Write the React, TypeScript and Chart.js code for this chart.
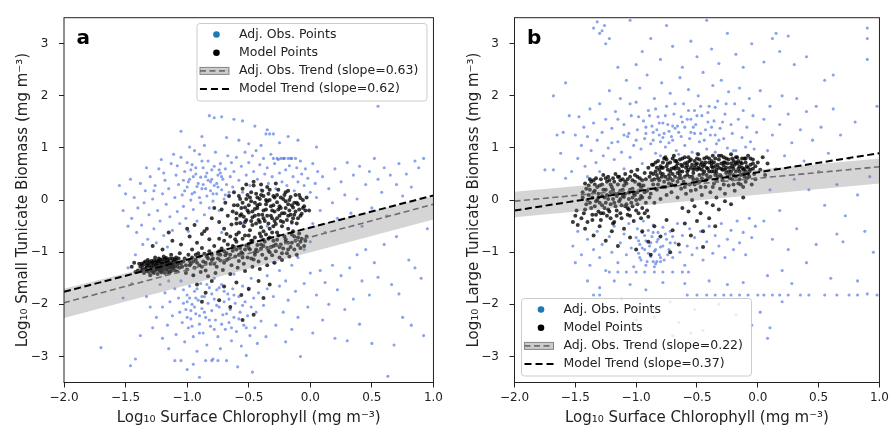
import { useEffect, useRef } from "react";
import { Chart, registerables } from "chart.js";
Chart.register(...registerables);

type P = [number, number];

const X_TICKS = [-2.0, -1.5, -1.0, -0.5, 0.0, 0.5, 1.0];
const Y_TICKS = [-3, -2, -1, 0, 1, 2, 3];
const X_MIN = -2, X_MAX = 1, Y_MIN = -3.5, Y_MAX = 3.5;
const TREND_X = [-2, 1];

const X_TITLE = "Log\u2081\u2080 Surface Chlorophyll (mg m\u207B\u00B3)";
const A_Y_TITLE = "Log\u2081\u2080 Small Tunicate Biomass (mg m\u207B\u00B3)";
const B_Y_TITLE = "Log\u2081\u2080 Large Tunicate Biomass (mg m\u207B\u00B3)";

const A_LEGEND = ["Adj. Obs. Points", "Model Points", "Adj. Obs. Trend (slope=0.63)", "Model Trend (slope=0.62)"];
const B_LEGEND = ["Adj. Obs. Points", "Model Points", "Adj. Obs. Trend (slope=0.22)", "Model Trend (slope=0.37)"];

// trend values at x = -2 and x = 1
const A_MODEL_TREND = [-1.76, 0.09];
const A_OBS_TREND = [-1.97, -0.08];
const A_BAND_HI = [-1.70, 0.08];
const A_BAND_LO = [-2.26, -0.37];
const B_MODEL_TREND = [-0.20, 0.90];
const B_OBS_TREND = [-0.02, 0.64];
const B_BAND_HI = [0.16, 0.80];
const B_BAND_LO = [-0.33, 0.32];

const A_MODEL: P[] = [
[-1.36,-1.32],[-1.33,-1.25],[-1.31,-1.38],[-1.29,-1.21],[-1.28,-1.30],[-1.27,-1.16],[-1.26,-1.35],[-1.25,-1.24],[-1.24,-1.42],[-1.23,-1.12],
[-1.22,-1.29],[-1.21,-1.19],[-1.20,-1.36],[-1.19,-1.08],[-1.18,-1.26],[-1.17,-1.33],[-1.16,-1.15],[-1.15,-1.40],[-1.14,-1.22],[-1.13,-1.05],
[-1.12,-1.31],[-1.11,-1.18],[-1.10,-1.27],[-1.09,-1.10],[-1.08,-1.37],[-1.07,-1.21],[-1.06,-1.02],[-1.34,-1.18],[-1.30,-1.44],[-1.26,-1.10],
[-1.24,-1.31],[-1.22,-1.22],[-1.20,-1.14],[-1.18,-1.40],[-1.16,-1.25],[-1.14,-1.12],[-1.12,-1.19],[-1.10,-1.35],[-1.38,-1.28],[-1.35,-1.40],
[-1.32,-1.15],[-1.29,-1.34],[-1.27,-1.26],[-1.23,-1.18],[-1.21,-1.39],[-1.19,-1.23],[-1.17,-1.11],[-1.15,-1.29],[-1.13,-1.36],[-1.11,-1.24],
[-1.09,-1.17],[-1.40,-1.35],[-1.37,-1.22],[-1.33,-1.30],[-1.28,-1.20],[-1.25,-1.33],[-1.21,-1.27],[-1.17,-1.20],[-1.13,-1.28],[-1.31,-1.26],
[-1.04,-1.28],[-1.02,-1.12],[-1.00,-1.33],[-0.99,-1.05],[-0.97,-1.22],[-0.96,-0.95],[-0.94,-1.30],[-0.93,-1.14],[-0.91,-1.02],[-0.90,-1.25],
[-0.88,-0.92],[-0.87,-1.18],[-0.85,-1.35],[-0.84,-1.08],[-0.82,-0.98],[-0.81,-1.22],[-0.79,-1.12],[-0.78,-0.88],[-0.76,-1.28],[-0.75,-1.03],
[-0.73,-1.16],[-0.72,-0.93],[-0.70,-1.20],[-0.69,-1.06],[-0.67,-0.85],[-0.66,-1.12],[-0.64,-1.25],[-0.63,-0.97],[-0.61,-1.08],[-0.60,-0.80],
[-0.58,-1.17],[-0.57,-0.92],[-0.55,-1.03],[-0.54,-1.22],[-0.52,-0.87],[-0.51,-1.10],[-0.49,-0.95],[-0.48,-0.78],[-0.46,-1.14],[-0.45,-1.00],
[-0.43,-0.86],[-0.42,-1.18],[-0.40,-0.93],[-0.39,-1.05],[-0.37,-0.80],[-0.36,-1.12],[-0.34,-0.97],[-0.33,-0.72],[-0.31,-1.06],[-0.30,-0.88],
[-0.28,-0.98],[-0.27,-0.76],[-0.25,-1.10],[-0.24,-0.85],[-0.22,-0.93],[-0.21,-0.70],[-0.19,-1.02],[-0.18,-0.82],[-0.16,-0.90],[-0.15,-0.66],
[-0.13,-0.95],[-0.12,-0.78],[-0.10,-0.86],[-0.09,-0.64],[-0.07,-0.74],[-0.05,-0.88],[-0.03,-0.70],[-1.01,-1.40],[-0.95,-1.44],[-0.89,-1.38],
[-0.83,-1.46],[-0.77,-1.40],[-0.71,-1.34],[-0.65,-1.42],[-0.59,-1.30],[-0.53,-1.36],[-0.47,-1.28],[-0.41,-1.32],[-0.35,-1.25],[-0.29,-1.20],
[-0.23,-1.15],[-0.17,-1.08],[-0.11,-1.05],[-0.98,-1.17],[-0.86,-1.03],[-0.74,-0.98],[-0.62,-0.90],[-0.50,-0.84],[-0.38,-0.76],[-0.26,-0.68],
[-0.14,-0.60],[-0.92,-1.20],[-0.80,-1.15],[-0.68,-1.02],[-0.56,-1.00],[-0.44,-0.95],[-0.32,-0.90],[-0.20,-0.80],[-0.08,-0.80],[-0.96,-1.10],
[-0.74,-0.74],[-0.70,-0.78],[-0.65,-0.70],[-0.60,-0.66],[-0.55,-0.74],[-0.50,-0.68],[-0.45,-0.72],[-0.41,-0.64],[-0.36,-0.66],[-0.31,-0.62],
[-0.74,-0.42],[-0.72,-0.18],[-0.70,-0.55],[-0.69,-0.05],[-0.67,-0.30],[-0.66,0.08],[-0.64,-0.47],[-0.63,-0.22],[-0.62,0.15],[-0.60,-0.36],
[-0.59,-0.10],[-0.58,-0.62],[-0.57,0.02],[-0.56,-0.27],[-0.55,0.22],[-0.54,-0.50],[-0.53,-0.14],[-0.52,-0.38],[-0.51,0.10],[-0.50,-0.24],
[-0.49,-0.58],[-0.48,-0.02],[-0.47,-0.33],[-0.46,0.28],[-0.45,-0.17],[-0.44,-0.45],[-0.43,0.05],[-0.42,-0.28],[-0.41,-0.08],[-0.40,-0.52],
[-0.39,0.18],[-0.38,-0.20],[-0.37,-0.40],[-0.36,0.00],[-0.35,-0.30],[-0.34,0.12],[-0.33,-0.55],[-0.32,-0.12],[-0.31,-0.35],[-0.30,0.08],
[-0.29,-0.22],[-0.28,-0.46],[-0.27,-0.04],[-0.26,0.20],[-0.25,-0.30],[-0.24,-0.15],[-0.23,-0.50],[-0.22,0.02],[-0.21,-0.25],[-0.20,0.15],
[-0.19,-0.38],[-0.18,-0.08],[-0.17,-0.20],[-0.16,0.06],[-0.15,-0.42],[-0.14,-0.14],[-0.13,-0.28],[-0.12,0.10],[-0.11,-0.05],[-0.10,-0.35],
[-0.09,-0.18],[-0.08,0.04],[-0.07,-0.26],[-0.05,-0.12],[-0.03,0.05],[-0.01,-0.20],[-0.68,-0.65],[-0.61,-0.75],[-0.53,-0.68],[-0.47,-0.78],
[-0.40,-0.70],[-0.34,-0.74],[-0.27,-0.62],[-0.46,0.35],[-0.40,0.30],[-0.52,0.30],[-0.35,0.25],[-0.28,0.32],[-0.80,-0.35],[-0.84,-0.55],
[-0.78,-0.15],[-0.82,-0.75],[-0.88,-0.65],[-0.57,-0.44],[-0.48,-0.40],[-0.43,-0.15],[-0.38,-0.60],[-0.30,-0.50],[-0.24,-0.40],[-0.18,-0.55],
[-0.92,-1.62],[-0.85,-1.78],[-0.80,-1.55],[-0.74,-1.92],[-0.70,-1.66],[-0.65,-2.05],[-0.60,-1.58],[-0.56,-1.82],[-0.50,-1.70],[-0.46,-2.20],
[-0.42,-1.55],[-0.38,-1.88],[-0.33,-1.62],[-0.55,-2.30],[-0.88,-1.95],[-1.28,-0.88],[-1.20,-0.95],[-1.12,-0.78],[-1.05,-0.85],[-0.98,-0.70],
[-0.92,-0.82],[-0.86,-0.60],[-1.15,-0.62],[-1.00,-0.55],[-0.94,-0.48],[-1.45,-1.28],[-1.43,-1.20],[-1.42,-1.38]
];

const A_MODEL_DENSE: P[] = [
[-1.39,-1.22],[-1.37,-1.35],[-1.35,-1.20],[-1.34,-1.32],[-1.32,-1.22],[-1.30,-1.30],[-1.29,-1.17],[-1.28,-1.38],[-1.26,-1.28],[-1.25,-1.17],
[-1.24,-1.25],[-1.23,-1.34],[-1.22,-1.14],[-1.21,-1.31],[-1.20,-1.22],[-1.19,-1.32],[-1.18,-1.18],[-1.17,-1.27],[-1.16,-1.34],[-1.15,-1.18],
[-1.14,-1.30],[-1.13,-1.22],[-1.12,-1.12],[-1.11,-1.30],[-1.10,-1.20],[-1.08,-1.28],[-1.07,-1.12],[-1.05,-1.22],[-1.03,-1.18],[-1.01,-1.25],
[-0.62,-0.10],[-0.60,-0.25],[-0.58,0.08],[-0.56,-0.15],[-0.54,-0.32],[-0.52,0.02],[-0.50,-0.10],[-0.48,0.15],[-0.47,-0.22],[-0.45,-0.05],
[-0.44,0.12],[-0.42,-0.38],[-0.41,0.02],[-0.39,-0.28],[-0.38,0.08],[-0.36,-0.18],[-0.35,-0.02],[-0.33,0.20],[-0.32,-0.30],[-0.30,-0.10],
[-0.29,0.05],[-0.27,-0.35],[-0.26,-0.18],[-0.24,0.05],[-0.23,-0.25],[-0.21,0.10],[-0.20,-0.15],[-0.18,-0.30],[-0.17,0.00],[-0.15,-0.10],
[-0.14,-0.35],[-0.12,-0.22],[-0.10,-0.08],[-0.08,-0.30],[-0.06,0.00],[-0.04,-0.20],
[-0.95,-1.18],[-0.90,-1.08],[-0.85,-1.20],[-0.80,-1.05],[-0.75,-1.12],[-0.70,-0.98],[-0.65,-1.05],[-0.60,-0.95],[-0.55,-1.10],[-0.50,-0.92],
[-0.45,-1.05],[-0.40,-0.85],[-0.35,-0.92],[-0.30,-0.78],[-0.25,-0.90],[-0.20,-0.75],[-0.15,-0.82],[-0.10,-0.72],
[-1.36,-1.25],[-1.33,-1.36],[-1.31,-1.19],[-1.29,-1.28],[-1.27,-1.40],[-1.26,-1.20],[-1.24,-1.18],[-1.22,-1.36],[-1.20,-1.28],[-1.18,-1.12],
[-1.16,-1.20],[-1.14,-1.38],[-1.12,-1.25],[-1.10,-1.14],[-1.08,-1.22],[-1.06,-1.30],
[-0.60,-0.45],[-0.57,-0.30],[-0.55,-0.05],[-0.53,-0.42],[-0.51,-0.20],[-0.49,0.05],[-0.47,-0.48],[-0.45,-0.30],[-0.43,-0.10],[-0.41,-0.42],
[-0.40,0.10],[-0.38,-0.35],[-0.36,-0.08],[-0.34,-0.45],[-0.33,0.00],[-0.31,-0.20],[-0.29,-0.40],[-0.27,0.10],[-0.25,-0.12],[-0.22,-0.42],
[-0.20,-0.02],[-0.18,0.18],[-0.16,-0.28],[-0.13,-0.05],[-0.11,-0.45],[-0.09,0.10],[-0.06,-0.15],
[-0.98,-1.25],[-0.93,-1.05],[-0.88,-1.28],[-0.83,-1.12],[-0.78,-1.22],[-0.73,-1.05],[-0.68,-1.15],[-0.63,-0.88],[-0.58,-1.05],[-0.53,-0.95],
[-0.48,-1.12],[-0.43,-0.98],[-0.38,-0.88],[-0.33,-1.00],[-0.28,-0.85],[-0.23,-1.02],[-0.18,-0.95],[-0.13,-0.70],[-0.08,-0.92],[-0.04,-0.78]
];

const A_OBS: P[] = [
[-1.45,-0.35],[-1.43,0.05],[-1.41,-0.62],[-1.40,-0.15],[-1.38,0.32],[-1.37,-0.48],[-1.35,-0.05],[-1.34,0.18],[-1.32,-0.75],[-1.31,-0.28],
[-1.30,0.45],[-1.28,0.02],[-1.27,-0.55],[-1.26,0.28],[-1.24,-0.20],[-1.23,0.60],[-1.22,-0.40],[-1.20,0.12],[-1.19,-0.68],[-1.18,0.38],
[-1.17,-0.08],[-1.15,0.22],[-1.14,-0.32],[-1.13,0.70],[-1.12,-0.58],[-1.10,0.05],[-1.09,0.48],[-1.08,-0.22],[-1.07,0.30],[-1.06,-0.45],
[-1.05,0.82],[-1.04,0.10],[-1.03,-0.12],[-1.02,0.55],[-1.01,-0.35],[-1.00,0.25],[-0.99,-0.60],[-0.98,0.40],[-0.97,0.00],[-0.96,0.68],
[-0.95,-0.18],[-0.94,0.15],[-0.93,0.50],[-0.92,-0.40],[-0.91,0.32],[-0.90,0.88],[-0.89,-0.05],[-0.88,0.22],[-0.87,0.62],[-0.86,-0.28],
[-0.85,0.45],[-0.84,0.08],[-0.83,0.75],[-0.82,-0.15],[-0.81,0.35],[-0.80,0.58],[-0.79,-0.02],[-0.78,0.28],[-0.77,0.92],[-0.76,0.12],
[-0.75,0.48],[-0.74,-0.20],[-0.73,0.70],[-0.72,0.20],[-0.71,0.40],[-0.70,0.02],[-0.69,0.60],[-0.68,0.30],[-0.67,0.85],[-0.66,0.15],
[-0.65,0.45],[-0.64,0.72],[-0.63,0.25],[-0.62,0.55],[-1.36,-0.85],[-1.25,-0.82],[-1.16,-0.90],[-1.50,0.12],[-1.48,-0.50],[-1.52,-0.20],
[-1.46,0.40],[-1.55,0.28],[-1.33,0.62],[-1.21,0.78],[-1.11,0.88],[-0.98,1.02],[-0.94,0.95],[-0.86,1.05],[-1.03,0.38],[-0.97,0.58],
[-0.92,0.26],[-0.89,0.44],[-0.85,0.22],[-0.80,0.40],[-0.76,0.32],[-0.73,0.52],[-1.27,0.18],[-1.19,0.52],[-1.08,0.66],[-1.00,0.72],
[-0.60,0.82],[-0.58,0.38],[-0.56,0.65],[-0.55,0.15],[-0.53,0.92],[-0.52,0.48],[-0.50,0.72],[-0.49,0.28],[-0.47,0.85],[-0.46,0.55],
[-0.44,0.95],[-0.43,0.40],[-0.41,0.68],[-0.40,0.20],[-0.38,0.80],[-0.37,0.50],[-0.35,0.62],[-0.34,0.32],[-0.32,0.88],[-0.31,0.45],
[-0.29,0.70],[-0.28,0.22],[-0.26,0.78],[-0.25,0.52],[-0.23,0.35],[-0.22,0.80],[-0.20,0.58],[-0.19,0.28],[-0.17,0.66],[-0.16,0.80],
[-0.14,0.45],[-0.13,0.18],[-0.11,0.62],[-0.10,0.35],[-0.08,0.75],[-0.07,0.50],[-0.05,0.28],[-0.04,0.60],[-0.02,0.42],[0.00,0.15],
[0.02,0.70],[0.04,0.32],[0.06,0.55],[-0.30,0.80],[-0.27,0.80],[-0.24,0.80],[-0.21,0.80],[-0.18,0.80],[-0.15,0.80],[-0.12,0.80],
[-0.82,1.62],[-0.78,1.58],[-0.72,1.60],[-0.62,1.55],[-0.55,1.52],[-0.68,1.20],[-0.58,1.15],[-0.45,1.42],[-0.35,1.35],[-0.40,1.05],
[-0.25,1.10],[-0.18,1.22],[-0.10,1.15],[-1.05,1.32],[-0.88,1.22],[-0.30,1.27],[-0.33,1.27],[-0.36,1.27],[0.05,1.02],[-0.50,1.08],
[-1.22,-1.62],[-1.20,-2.05],[-1.18,-1.78],[-1.16,-2.40],[-1.14,-1.95],[-1.12,-2.22],[-1.10,-1.70],[-1.09,-2.58],[-1.07,-1.88],[-1.06,-2.15],
[-1.05,-1.55],[-1.04,-2.35],[-1.03,-1.98],[-1.02,-2.72],[-1.01,-2.10],[-1.00,-1.82],[-0.99,-2.45],[-0.98,-1.65],[-0.97,-2.28],[-0.96,-2.00],
[-0.95,-2.62],[-0.94,-1.75],[-0.93,-2.18],[-0.92,-2.90],[-0.91,-1.92],[-0.90,-2.38],[-0.89,-1.60],[-0.88,-2.08],[-0.87,-2.55],[-0.86,-1.85],
[-0.85,-2.25],[-0.84,-2.78],[-0.83,-1.98],[-0.82,-1.68],[-0.81,-2.42],[-0.80,-2.12],[-0.79,-3.05],[-0.78,-1.90],[-0.77,-2.30],[-0.76,-1.72],
[-0.75,-2.62],[-0.74,-2.05],[-0.73,-2.85],[-0.72,-1.62],[-0.71,-2.20],[-0.70,-1.95],[-0.69,-2.48],[-0.68,-3.08],[-0.67,-1.80],[-0.66,-2.35],
[-0.65,-2.10],[-0.64,-2.70],[-0.63,-1.70],[-0.62,-2.25],[-0.61,-1.98],[-0.60,-2.52],[-0.59,-3.20],[-0.58,-1.85],[-0.57,-2.15],[-0.56,-2.80],
[-0.55,-1.65],[-0.54,-2.40],[-0.53,-1.95],[-0.52,-2.98],[-0.51,-2.22],[-0.50,-1.72],[-0.49,-2.60],[-0.48,-2.05],[-0.47,-3.30],[-0.46,-1.88],
[-0.45,-2.45],[-0.44,-2.15],[-0.43,-2.75],[-0.42,-1.78],[-0.40,-2.32],[-0.38,-2.02],[-0.36,-2.62],[-0.35,-1.70],[-1.10,-3.08],[-1.05,-3.08],
[-0.85,-3.08],[-0.80,-3.08],[-0.75,-3.08],[-1.00,-3.25],[-0.90,-3.40],[-0.95,-3.15],[-1.15,-2.85],[-1.20,-2.65],[-1.28,-2.45],[-1.30,-2.05],
[-1.25,-2.25],[-1.33,-1.85],[-1.38,-2.60],[-1.42,-3.05],[-1.46,-3.18],[-1.70,-2.83],[-1.00,-1.95],[-0.97,-2.12],[-0.93,-1.88],[-0.90,-2.22],
[-1.15,-1.55],[-0.95,-1.45],[-0.78,-1.50],[-0.62,-1.42],[-0.48,-1.50],[-0.35,-1.45],[-0.30,-1.20],[-0.25,-1.35],[-0.20,-1.55],[-0.15,-1.25],
[-1.42,-1.05],[-1.48,-1.30],[-1.45,-1.60],[-1.52,-1.88],
[-0.30,-1.85],[-0.28,-2.40],[-0.25,-1.65],[-0.22,-2.15],[-0.20,-2.72],[-0.18,-1.92],[-0.15,-2.48],[-0.12,-1.75],[-0.10,-2.25],[-0.08,-3.00],
[-0.05,-1.60],[-0.02,-2.05],[0.00,-1.40],[0.02,-2.55],[0.05,-1.82],[0.08,-1.35],[0.10,-2.30],[0.12,-1.58],[0.15,-2.00],[0.18,-1.25],
[0.20,-2.65],[0.22,-1.72],[0.25,-1.45],[0.28,-2.10],[0.30,-2.70],[0.32,-1.30],[0.35,-1.90],[0.38,-1.05],[0.40,-2.38],[0.42,-1.55],
[0.45,-0.95],[0.48,-1.82],[0.50,-2.75],[0.52,-1.20],[0.55,-1.48],[0.60,-0.85],[0.63,-3.38],[0.66,-1.62],[0.68,-2.78],[0.70,-0.70],
[0.72,-1.80],[0.75,-2.25],[0.80,-1.15],[0.82,-2.40],[0.85,-1.30],[0.90,-1.50],[0.92,-2.60],[0.95,-0.55],
[0.02,-0.45],[0.05,0.05],[0.08,-0.20],[0.10,0.45],[0.12,-0.62],[0.15,0.22],[0.18,-0.05],[0.20,0.60],[0.22,-0.35],[0.25,0.35],
[0.28,0.10],[0.30,0.72],[0.33,-0.25],[0.35,0.48],[0.38,0.02],[0.40,0.65],[0.42,-0.50],[0.45,0.30],[0.48,0.55],[0.50,-0.15],
[0.52,0.80],[0.55,0.40],[0.58,0.15],[0.60,0.62],[0.62,-0.30],[0.65,0.48],[0.70,0.30],[0.72,0.70],[0.75,0.08],[0.78,0.50],
[0.82,0.25],[0.85,0.75],[0.88,0.62],[0.92,0.80],[0.55,1.80],[-0.72,-0.62],[-0.55,-0.45],[-0.35,-0.50],[-0.15,-0.45],[-0.05,-0.95],
[-0.10,-1.10],[0.00,-0.80]
];

const A_OBS_DENSE: P[] = [
[-1.02,0.18],[-0.99,0.35],[-0.96,0.12],[-0.93,0.62],[-0.90,0.05],[-0.87,0.30],[-0.84,0.52],[-0.81,0.18],[-0.78,0.65],[-0.75,0.25],
[-0.72,0.45],[-0.69,0.10],[-0.95,0.45],[-0.88,0.75],[-0.83,0.38],[-0.79,0.12],[-0.74,0.58],
[-1.03,-1.72],[-1.00,-2.25],[-0.98,-1.88],[-0.96,-2.42],[-0.94,-2.05],[-0.92,-1.70],[-0.90,-2.55],[-0.88,-1.85],[-0.86,-2.15],[-0.84,-1.62],
[-0.82,-2.30],[-0.80,-1.80],[-0.78,-2.48],[-0.76,-2.02],[-0.74,-1.68],[-0.72,-2.38],[-0.70,-1.75],[-0.68,-2.18],[-0.66,-1.90],[-0.64,-2.45],
[-0.62,-1.82],[-0.58,-2.28],[-0.55,-2.02],[-0.52,-2.45]
];

const B_MODEL: P[] = [
[-1.45,-0.35],[-1.44,0.05],[-1.42,-0.18],[-1.41,0.22],[-1.40,-0.42],[-1.39,0.10],[-1.38,-0.05],[-1.37,0.35],[-1.36,-0.28],[-1.35,0.15],
[-1.34,-0.12],[-1.33,0.42],[-1.32,0.00],[-1.31,-0.22],[-1.30,0.28],[-1.29,-0.38],[-1.28,0.08],[-1.27,0.48],[-1.26,-0.15],[-1.25,0.20],
[-1.24,-0.30],[-1.23,0.02],[-1.22,0.38],[-1.21,-0.08],[-1.20,0.25],[-1.19,-0.45],[-1.18,0.12],[-1.17,0.50],[-1.16,-0.20],[-1.15,0.30],
[-1.14,-0.02],[-1.13,0.18],[-1.12,-0.35],[-1.11,0.40],[-1.10,0.06],[-1.09,-0.12],[-1.08,0.32],[-1.07,-0.28],[-1.06,0.14],[-1.05,0.45],
[-1.04,-0.05],[-1.03,0.22],[-1.02,-0.40],[-1.01,0.35],[-1.00,0.00],[-0.99,0.15],[-0.98,-0.25],[-0.97,0.42],[-0.96,0.08],[-0.95,-0.15],
[-0.94,0.28],[-0.93,0.52],[-0.92,-0.05],[-0.91,0.18],[-0.90,-0.32],[-1.43,-0.25],[-1.39,0.28],[-1.34,0.18],[-1.29,0.40],[-1.24,0.35],
[-1.19,0.42],[-1.14,0.45],[-1.09,0.50],[-1.04,0.55],[-0.99,0.58],[-1.36,0.05],[-1.31,0.12],[-1.26,0.05],[-1.21,0.15],[-1.16,0.08],
[-1.11,0.20],[-1.06,-0.18],[-1.01,0.10],[-0.96,0.25],[-1.50,-0.30],[-1.52,-0.42],[-1.48,-0.48],[-1.49,-0.20],[-1.33,-0.02],[-1.28,-0.10],
[-1.23,-0.18],[-1.18,-0.05],[-1.13,0.02],[-1.08,-0.08],[-1.03,0.05],[-0.98,0.30],
[-0.89,0.45],[-0.88,0.12],[-0.87,0.68],[-0.86,0.30],[-0.85,-0.05],[-0.84,0.55],[-0.83,0.20],[-0.82,0.75],[-0.81,0.38],[-0.80,0.02],
[-0.79,0.62],[-0.78,0.25],[-0.77,0.80],[-0.76,0.45],[-0.75,0.10],[-0.74,0.58],[-0.73,0.32],[-0.72,0.72],[-0.71,0.15],[-0.70,0.50],
[-0.69,0.85],[-0.68,0.28],[-0.67,0.65],[-0.66,0.05],[-0.65,0.42],[-0.64,0.78],[-0.63,0.22],[-0.62,0.55],[-0.61,0.35],[-0.60,0.70],
[-0.59,0.12],[-0.58,0.48],[-0.57,0.82],[-0.56,0.30],[-0.55,0.62],[-0.54,0.00],[-0.53,0.40],[-0.52,0.75],[-0.51,0.20],[-0.50,0.58],
[-0.49,0.88],[-0.48,0.35],[-0.47,0.68],[-0.46,0.10],[-0.45,0.50],[-0.44,0.80],[-0.43,0.25],[-0.42,0.62],[-0.41,0.42],[-0.40,0.72],
[-0.39,0.15],[-0.38,0.55],[-0.37,0.85],[-0.36,0.32],[-0.35,0.65],[-0.34,0.05],[-0.33,0.45],[-0.32,0.78],[-0.31,0.22],[-0.30,0.60],
[-0.29,0.38],[-0.28,0.82],[-0.27,0.12],[-0.26,0.52],[-0.25,0.70],[-0.24,0.28],[-0.23,0.62],[-0.22,0.88],[-0.21,0.40],[-0.20,0.75],
[-0.19,0.18],[-0.18,0.55],[-0.17,0.82],[-0.16,0.32],[-0.15,0.65],[-0.14,0.48],[-0.13,0.80],[-0.12,0.25],[-0.11,0.60],[-0.10,0.72],
[-0.09,0.42],[-0.08,0.85],[-0.07,0.55],[-0.06,0.68],[-0.05,0.30],[-0.04,0.78],[-0.03,0.50],[-0.02,0.65],[0.00,0.72],[0.02,0.58],
[0.04,0.82],[0.06,0.48],[0.08,0.70],[-0.85,0.40],[-0.80,0.52],[-0.75,0.65],[-0.70,0.38],[-0.65,0.60],[-0.60,0.45],[-0.55,0.78],
[-0.50,0.40],[-0.45,0.65],[-0.40,0.55],[-0.35,0.48],[-0.30,0.70],[-0.25,0.45],[-0.20,0.60],[-0.15,0.40],[-0.10,0.55],[-0.83,0.62],
[-0.77,0.35],[-0.71,0.60],[-0.63,0.68],[-0.57,0.58],[-0.51,0.68],[-0.43,0.72],[-0.37,0.62],[-0.33,0.68],[-0.27,0.58],[-0.21,0.65],
[-0.17,0.70],[-0.13,0.62],[-0.08,0.62],[-0.62,-0.15],[-0.52,-0.12],[-0.42,-0.05],[-0.32,-0.18],[-0.22,-0.08],[-0.12,0.05],[-0.57,-0.22],
[-0.47,-0.25],[-0.37,-0.10],[-0.27,-0.02],[-0.78,0.72],[-0.68,0.75],[-0.58,0.66],[-0.48,0.60],[-0.38,0.70],[-0.28,0.66],[-0.18,0.72],
[-0.73,0.48],[-0.66,0.52],[-0.53,0.52],[-0.46,0.42],[-0.34,0.58],[-0.23,0.50],[-0.11,0.45],
[-1.42,-0.55],[-1.35,-0.68],[-1.30,-0.50],[-1.25,-0.78],[-1.20,-0.60],[-1.15,-0.88],[-1.10,-0.55],[-1.05,-0.72],[-1.00,-0.95],[-0.95,-0.60],
[-0.90,-0.80],[-0.85,-0.50],[-0.80,-0.70],[-0.75,-0.38],[-0.70,-0.58],[-0.65,-0.85],[-0.60,-0.45],[-0.55,-0.68],[-0.50,-0.40],[-0.45,-0.60],
[-0.40,-0.35],[-0.35,-0.50],[-0.72,-1.00],[-0.88,-1.05],[-1.18,-0.42],[-0.45,-0.90]
];

const B_MODEL_DENSE: P[] = [
[-1.44,0.15],[-1.42,0.32],[-1.41,-0.08],[-1.38,0.20],[-1.37,-0.15],[-1.35,0.38],[-1.33,-0.28],[-1.32,0.25],[-1.30,-0.05],[-1.28,0.30],
[-1.27,-0.25],[-1.25,0.42],[-1.24,0.10],[-1.22,-0.22],[-1.21,0.30],[-1.19,0.02],[-1.18,0.35],[-1.16,-0.30],[-1.15,0.12],[-1.13,0.38],
[-1.12,-0.10],[-1.10,0.28],[-1.09,0.12],[-1.07,0.40],[-1.06,0.02],[-1.05,-0.30],[-1.03,0.38],[-1.02,0.12],[-1.00,-0.20],[-0.99,0.45],
[-0.97,0.02],[-0.96,-0.35],[-0.95,0.38],[-0.93,0.15],[-0.92,0.40],[-0.91,-0.20],[-0.90,0.62],[-0.89,0.05],
[-0.88,0.52],[-0.87,0.38],[-0.86,0.68],[-0.84,0.22],[-0.83,0.48],[-0.82,0.30],[-0.81,0.58],[-0.79,0.45],[-0.78,0.62],[-0.76,0.25],
[-0.75,0.78],[-0.74,0.40],[-0.72,0.55],[-0.71,0.30],[-0.69,0.62],[-0.68,0.45],[-0.67,0.75],[-0.66,0.35],[-0.64,0.55],[-0.63,0.42],
[-0.62,0.80],[-0.60,0.25],[-0.59,0.62],[-0.58,0.72],[-0.56,0.45],[-0.55,0.18],[-0.54,0.68],[-0.53,0.58],[-0.52,0.30],[-0.50,0.80],
[-0.49,0.62],[-0.48,0.48],[-0.47,0.25],[-0.46,0.72],[-0.44,0.55],[-0.43,0.38],[-0.42,0.82],[-0.41,0.60],[-0.39,0.45],[-0.38,0.75],
[-0.37,0.25],[-0.36,0.55],[-0.35,0.80],[-0.34,0.38],[-0.32,0.62],[-0.31,0.48],[-0.30,0.85],[-0.29,0.58],[-0.28,0.30],[-0.27,0.72],
[-0.26,0.62],[-0.24,0.78],[-0.23,0.42],[-0.22,0.55],[-0.21,0.80],[-0.20,0.30],[-0.19,0.68],[-0.18,0.45],[-0.16,0.75],[-0.15,0.55],
[-0.14,0.30],[-0.13,0.70],[-0.12,0.50],[-0.11,0.80],[-0.10,0.35],[-0.09,0.65],[-0.07,0.45],[-0.06,0.80],[-0.04,0.60],[-0.02,0.40],
[-0.86,0.50],[-0.84,0.72],[-0.82,0.42],[-0.80,0.65],[-0.78,0.50],[-0.76,0.82],[-0.74,0.70],[-0.72,0.42],[-0.70,0.80],[-0.68,0.60],
[-0.66,0.70],[-0.64,0.48],[-0.62,0.65],[-0.60,0.82],[-0.58,0.55],[-0.56,0.75],[-0.54,0.45],[-0.52,0.62],[-0.50,0.70],[-0.48,0.78],
[-0.46,0.58],[-0.44,0.68],[-0.42,0.48],[-0.40,0.80],[-0.38,0.65],[-0.36,0.72],[-0.34,0.52],[-0.32,0.85],[-0.30,0.45],[-0.28,0.72],
[-0.26,0.80],[-0.24,0.55],[-0.22,0.70],[-0.20,0.48],[-0.18,0.82],[-0.16,0.60],[-0.14,0.72],[-0.12,0.58],[-0.10,0.80],[-0.08,0.50],
[-0.06,0.58],[-0.04,0.70],
[-1.40,0.00],[-1.38,0.40],[-1.36,-0.38],[-1.34,0.30],[-1.31,0.05],[-1.29,-0.25],[-1.27,0.20],[-1.25,-0.05],[-1.23,0.45],[-1.21,-0.35],
[-1.19,0.20],[-1.17,-0.12],[-1.15,0.45],[-1.13,-0.25],[-1.11,0.08],[-1.09,0.35],[-1.07,-0.15],[-1.05,0.20],[-1.03,-0.12],[-1.01,0.48],
[-0.99,-0.08],[-0.97,0.30],[-0.95,0.05],[-0.93,-0.25]
];

const B_OBS: P[] = [
[-1.50,1.25],[-1.48,0.80],[-1.47,1.60],[-1.45,1.05],[-1.43,1.40],[-1.42,0.65],[-1.40,1.22],[-1.38,1.75],[-1.37,0.95],[-1.35,1.48],
[-1.33,0.72],[-1.32,1.15],[-1.30,1.85],[-1.28,1.30],[-1.27,0.85],[-1.25,1.55],[-1.23,1.00],[-1.22,2.10],[-1.20,1.38],[-1.18,0.78],
[-1.17,1.70],[-1.15,1.12],[-1.13,1.95],[-1.12,0.92],[-1.10,1.45],[-1.08,2.30],[-1.07,1.22],[-1.05,0.82],[-1.04,1.62],[-1.02,1.05],
[-1.00,1.88],[-0.99,1.35],[-0.97,2.15],[-0.96,0.98],[-0.94,1.52],[-0.93,1.18],[-0.91,2.40],[-0.90,1.72],[-0.88,1.08],[-0.87,1.42],
[-0.85,1.95],[-0.84,0.90],[-0.82,1.60],[-0.81,1.25],[-0.79,2.25],[-0.78,1.48],[-0.76,1.02],[-0.75,1.80],[-0.73,1.32],[-0.72,2.05],
[-0.70,1.15],[-0.69,1.65],[-0.67,0.95],[-0.66,1.42],[-0.64,2.35],[-0.63,1.22],[-0.61,1.85],[-0.60,1.05],[-0.58,1.55],[-0.57,2.12],
[-0.55,1.30],[-0.54,0.92],[-0.52,1.72],[-0.51,1.45],[-0.49,2.00],[-0.48,1.12],[-0.46,1.62],[-0.45,2.45],[-0.43,1.35],[-0.42,0.98],
[-0.40,1.80],[-0.39,1.25],[-0.37,2.20],[-0.36,1.52],[-0.34,1.08],[-0.33,1.90],[-0.31,1.38],[-0.30,2.30],[-0.28,1.18],[-0.27,1.65],
[-0.25,1.00],[-0.24,2.08],[-0.22,1.45],[-0.21,1.28],[-0.19,1.85],[-0.18,0.95],[-0.16,1.55],[-0.15,2.15],[-0.13,1.20],[-0.12,1.72],
[-0.10,1.02],[-0.09,1.40],[-0.07,1.95],[-0.06,1.12],[-0.04,1.62],[-0.03,0.98],[-0.01,1.30],[-1.30,0.55],[-1.10,0.60],[-0.95,0.70],
[-0.80,0.85],[-0.65,0.88],[-0.50,0.90],[-0.35,0.92],[-0.20,0.95],[-1.40,0.45],[-1.53,0.55],[-1.58,0.42],[-1.62,0.90],[-1.68,0.58],
[-1.75,0.58],[-1.60,1.30],[-1.55,1.62],[-1.65,1.25],[-0.92,1.28],[-0.86,1.15],[-0.83,1.35],[-0.80,1.12],[-0.77,1.28],[-0.74,1.45],
[-0.71,1.22],[-0.68,1.38],[-0.62,1.50],[-0.56,1.18],[-0.53,1.40],[-0.47,1.28],[-0.41,1.50],[-0.35,1.25],[-0.98,1.60],[-1.06,1.28],
[-1.35,3.30],[-1.32,3.42],[-1.30,3.20],[-1.28,3.25],[-1.26,3.35],[-1.25,3.00],[-1.22,3.10],[-1.15,2.55],[-1.05,3.45],[-1.00,2.60],
[-0.95,2.85],[-0.88,3.10],[-0.80,2.70],[-0.75,3.35],[-0.70,2.95],[-0.62,2.55],[-0.55,3.05],[-0.50,2.75],[-0.42,3.45],[-0.38,2.90],
[-0.32,2.62],[-0.25,3.20],[-0.18,2.80],[-0.12,2.55],[-0.05,3.00],[0.05,2.65],[0.12,3.10],[0.15,3.20],[0.18,2.85],[0.25,3.15],
[0.30,2.60],[0.40,2.75],[0.55,2.30],[0.62,2.40],[0.90,3.30],[0.90,3.10],[0.90,2.70],[-1.58,2.25],[-1.68,2.00],
[0.02,2.10],[0.05,1.55],[0.08,0.95],[0.10,1.80],[0.12,1.25],[0.15,0.60],[0.18,1.45],[0.20,2.00],[0.22,0.85],[0.25,1.65],
[0.28,1.10],[0.30,0.40],[0.32,1.95],[0.35,1.35],[0.38,0.75],[0.40,1.70],[0.42,0.20],[0.45,1.15],[0.48,1.80],[0.50,0.55],
[0.52,1.40],[0.55,-0.10],[0.58,0.90],[0.62,1.75],[0.65,0.30],[0.68,1.25],[0.72,-0.30],[0.75,0.80],[0.80,1.50],[0.82,0.10],
[0.88,-0.60],[0.92,0.45],[0.98,1.80],[0.05,-0.40],[0.12,-0.75],[0.18,-0.20],[0.25,-0.95],[0.32,-0.55],[0.40,-1.20],[0.48,-0.85],
[0.60,-1.50],[0.65,-0.65],[0.70,-0.80],[0.82,-1.55],[0.90,-1.80],[0.95,-1.00],[0.08,-1.45],[0.20,-1.35],[0.28,-1.60],[0.10,0.20],
[-1.45,-1.05],[-1.40,-0.75],[-1.38,-1.25],[-1.35,-0.95],[-1.32,-0.60],[-1.30,-1.10],[-1.28,-0.85],[-1.25,-1.35],[-1.22,-0.70],[-1.20,-1.00],
[-1.18,-0.50],[-1.15,-1.20],[-1.13,-0.82],[-1.10,-0.65],[-1.08,-1.05],[-1.06,-0.45],[-1.04,-0.92],[-1.02,-1.28],[-1.00,-0.72],[-0.99,-0.55],
[-0.98,-1.02],[-0.97,-0.85],[-0.96,-1.15],[-0.95,-0.62],[-0.94,-0.40],[-0.93,-0.95],[-0.92,-0.78],[-0.91,-1.18],[-0.90,-0.58],[-0.89,-0.88],
[-0.88,-1.08],[-0.87,-0.70],[-0.86,-0.48],[-0.85,-0.98],[-0.84,-1.22],[-0.83,-0.80],[-0.82,-0.62],[-0.81,-1.05],[-0.80,-0.90],[-0.78,-0.52],
[-0.77,-1.15],[-0.75,-0.75],[-0.73,-0.95],[-0.72,-0.60],[-0.70,-1.10],[-0.68,-0.82],[-0.66,-0.45],[-0.64,-1.00],[-0.62,-0.68],[-0.60,-1.25],
[-0.58,-0.88],[-0.56,-0.55],[-0.54,-1.05],[-0.52,-0.72],[-0.50,-0.92],[-0.47,-0.60],[-0.45,-1.15],[-0.42,-0.80],[-0.40,-0.50],[-0.37,-1.02],
[-0.35,-0.68],[-0.32,-0.88],[-0.30,-0.45],[-0.27,-1.10],[-0.25,-0.75],[-0.22,-0.58],[-0.20,-0.95],[-0.17,-0.40],[-0.15,-0.82],[-0.12,-0.62],
[-0.10,-1.05],[-0.07,-0.35],[-0.05,-0.72],[-0.02,-0.50],[-0.86,-1.18],[-0.83,-1.18],[-0.80,-1.18],[-1.50,-1.20],[-1.48,-0.60],[-1.52,-0.88],
[-1.22,-1.38],[-1.15,-1.38],[-1.08,-1.38],[-1.00,-1.38],[-0.93,-1.38],[-0.85,-1.38],[-0.78,-1.38],[-0.70,-1.38],[-0.62,-1.38],[-0.57,-1.38],
[-0.58,-1.82],[-0.50,-1.82],[-0.42,-1.82],[-0.35,-1.82],[-0.28,-1.82],[-0.22,-1.82],[-0.15,-1.82],[-0.08,-1.82],[0.00,-1.82],[0.05,-1.82],
[0.12,-1.82],[0.18,-1.82],[0.25,-1.82],[0.35,-1.82],[0.42,-1.82],[0.55,-1.82],[0.65,-1.82],[0.75,-1.82],[0.82,-1.82],[0.98,-1.82],
[-1.35,-1.82],[-1.30,-1.82],[-1.40,-1.55],[-1.30,-1.68],[-1.18,-1.55],[-1.12,-1.90],[-1.05,-1.62],[-0.98,-2.05],[-0.92,-1.72],[-0.85,-2.25],
[-0.78,-1.58],[-0.72,-1.95],[-0.65,-2.35],[-0.60,-1.60],[-0.52,-2.10],[-0.45,-2.50],[-0.40,-1.55],[-0.32,-2.00],[-0.25,-1.62],[-0.18,-2.20],
[-0.12,-1.58],[-0.05,-2.40],[0.02,-2.15],[0.08,-2.65],[0.10,-2.45],[0.20,-1.95],[-0.70,-2.60],[-0.55,-2.55],[-1.00,-2.30]
];

const B_OBS_DENSE: P[] = [
[-0.92,1.40],[-0.89,1.62],[-0.86,1.30],[-0.84,1.75],[-0.81,1.48],[-0.78,1.20],[-0.76,1.62],[-0.73,1.10],[-0.70,1.42],[-0.68,1.85],
[-0.65,1.30],[-0.63,1.60],[-0.60,1.40],[-0.57,1.72],[-0.55,1.55],[-0.52,1.28],[-0.50,1.62],[-0.47,1.80],[-0.44,1.15],[-0.41,1.68],
[-0.38,1.40],[-0.35,1.78],[-0.32,1.15],[-0.29,1.50],[-0.26,1.85],[-1.20,1.10],[-1.15,1.55],[-1.10,1.25],[-1.05,1.85],[-1.00,1.15],
[-0.98,-0.78],[-0.95,-0.92],[-0.93,-0.68],[-0.90,-1.02],[-0.88,-0.82],[-0.86,-0.62],[-0.84,-0.95],[-0.82,-0.75],[-0.80,-1.10],[-0.78,-0.88],
[-0.76,-0.65],[-0.74,-1.05],[-0.72,-0.82],[-0.70,-0.70],[-0.97,-1.10],[-0.92,-1.25],[-0.85,-1.28]
];

const FONT = "'DejaVu Sans', 'Liberation Sans', sans-serif";
const TEXT = "#222222";

const pts = (arr: P[]) => arr.map(([x, y]) => ({ x, y }));
const seg = (v: number[]) => TREND_X.map((x, i) => ({ x, y: v[i] }));
const fmt = (v: number, d: number) => (v < 0 ? "\u2212" + Math.abs(v).toFixed(d) : v.toFixed(d));

const decor = {
  id: "decor",
  afterDraw(chart: any, _a: any, opts: any) {
    const { ctx, chartArea: ca } = chart;
    ctx.save();
    ctx.strokeStyle = "#222";
    ctx.lineWidth = 1;
    ctx.setLineDash([]);
    ctx.strokeRect(ca.left, ca.top, ca.right - ca.left, ca.bottom - ca.top);
    ctx.fillStyle = "#000";
    ctx.font = "bold 20px " + FONT;
    ctx.textBaseline = "alphabetic";
    ctx.textAlign = "left";
    ctx.fillText(opts.letter, ca.left + 12.5, ca.top + 26.5);
    const w = 230, h = 77.5;
    const x0 = opts.corner === "tr" ? ca.right - 6.5 - w : ca.left + 7;
    const y0 = opts.corner === "tr" ? ca.top + 5.8 : ca.bottom - 6.5 - h;
    ctx.beginPath();
    if (ctx.roundRect) ctx.roundRect(x0, y0, w, h, 3); else ctx.rect(x0, y0, w, h);
    ctx.fillStyle = "rgba(255,255,255,0.8)";
    ctx.fill();
    ctx.strokeStyle = "#cccccc";
    ctx.lineWidth = 1;
    ctx.stroke();
    const items: string[] = opts.items;
    ctx.font = "12.5px " + FONT;
    ctx.textBaseline = "middle";
    items.forEach((t, i) => {
      const y = y0 + 11 + i * 18.2;
      const mx = x0 + 19.5;
      if (i === 0 || i === 1) {
        ctx.beginPath();
        ctx.arc(mx, y, 3.3, 0, Math.PI * 2);
        ctx.fillStyle = i === 0 ? "#1f77b4" : "#000";
        ctx.fill();
      } else if (i === 2) {
        ctx.fillStyle = "rgba(128,128,128,0.4)";
        ctx.fillRect(x0 + 3, y - 3.5, 29, 7);
        ctx.strokeStyle = "rgba(110,110,110,0.8)";
        ctx.lineWidth = 1;
        ctx.strokeRect(x0 + 3, y - 3.5, 29, 7);
        ctx.beginPath();
        ctx.setLineDash([6, 3.5]);
        ctx.strokeStyle = "#6e6e6e";
        ctx.lineWidth = 1.6;
        ctx.moveTo(x0 + 3, y);
        ctx.lineTo(x0 + 32, y);
        ctx.stroke();
        ctx.setLineDash([]);
      } else {
        ctx.beginPath();
        ctx.setLineDash([7, 4]);
        ctx.strokeStyle = "#000";
        ctx.lineWidth = 2;
        ctx.moveTo(x0 + 3, y);
        ctx.lineTo(x0 + 33, y);
        ctx.stroke();
        ctx.setLineDash([]);
      }
      ctx.fillStyle = TEXT;
      ctx.textAlign = "left";
      ctx.fillText(t, x0 + 42, y);
    });
    ctx.restore();
  },
};

type Panel = {
  obs: P[]; model: P[]; modelTrend: number[]; obsTrend: number[]; bandHi: number[]; bandLo: number[];
  yTitle: string; legend: string[]; letter: string; corner: string;
  yAxisWidth: number; padRight: number; yTitlePad: number;
};

function makeConfig(p: Panel): any {
  const tickFont = { family: FONT, size: 12 };
  const titleFont = { family: FONT, size: 15 };
  const grid = { display: true, drawOnChartArea: false, drawTicks: true, tickLength: 5, tickColor: "#222", tickWidth: 1 };
  return {
    type: "scatter",
    data: {
      datasets: [
        { label: "Adj. Obs. Points", data: pts(p.obs), backgroundColor: "rgba(65,105,225,0.62)", pointRadius: 1.55, pointBorderWidth: 0, borderWidth: 0, order: 6 },
        { label: "Model Points", data: pts(p.model), backgroundColor: "rgba(0,0,0,0.78)", pointRadius: 2.0, pointBorderWidth: 0, borderWidth: 0, order: 5 },
        { type: "line", label: "band hi", data: seg(p.bandHi), borderColor: "rgba(0,0,0,0)", borderWidth: 1, pointRadius: 0, fill: false, order: 4 },
        { type: "line", label: "band lo", data: seg(p.bandLo), borderColor: "rgba(0,0,0,0)", borderWidth: 1, pointRadius: 0, fill: "-1", backgroundColor: "rgba(128,128,128,0.33)", order: 4 },
        { type: "line", label: "Adj. Obs. Trend", data: seg(p.obsTrend), borderColor: "#6e6e6e", borderWidth: 1.6, borderDash: [6, 3.5], pointRadius: 0, fill: false, order: 2 },
        { type: "line", label: "Model Trend", data: seg(p.modelTrend), borderColor: "#000", borderWidth: 2, borderDash: [7, 3.5], pointRadius: 0, fill: false, order: 1 },
      ],
    },
    options: {
      responsive: false,
      animation: false,
      events: [],
      layout: { padding: { left: 0, right: p.padRight, top: 11.5, bottom: 0 } },
      plugins: { legend: { display: false }, tooltip: { enabled: false }, decor: { letter: p.letter, items: p.legend, corner: p.corner } },
      scales: {
        x: {
          type: "linear", min: X_MIN, max: X_MAX,
          afterBuildTicks: (s: any) => { s.ticks = X_TICKS.map((v) => ({ value: v })); },
          afterFit: (s: any) => { s.height = 47.5; },
          ticks: { callback: (v: any) => fmt(Number(v), 1), font: tickFont, color: TEXT, padding: 3, maxRotation: 0, autoSkip: false },
          grid, border: { display: false },
          title: { display: true, text: X_TITLE, font: titleFont, color: TEXT, padding: { top: 0, bottom: 3 } },
        },
        y: {
          type: "linear", min: Y_MIN, max: Y_MAX,
          afterBuildTicks: (s: any) => { s.ticks = Y_TICKS.map((v) => ({ value: v })); },
          afterFit: (s: any) => { s.width = p.yAxisWidth; },
          ticks: { callback: (v: any) => fmt(Number(v), 0), font: tickFont, color: TEXT, padding: 10.5, autoSkip: false },
          grid, border: { display: false },
          title: { display: true, text: p.yTitle, font: titleFont, color: TEXT, padding: { top: p.yTitlePad, bottom: 0 } },
        },
      },
    },
    plugins: [decor],
  };
}

function PanelChart({ p, left }: { p: Panel; left: number }) {
  const ref = useRef<HTMLCanvasElement>(null);
  useEffect(() => {
    if (!ref.current) return;
    const c = new Chart(ref.current, makeConfig(p));
    return () => c.destroy();
  }, []);
  return (
    <div style={{ position: "absolute", left, top: 0, width: 446, height: 430 }}>
      <canvas ref={ref} width={446} height={430} style={{ width: 446, height: 430, display: "block" }} />
    </div>
  );
}

const PANEL_A: Panel = {
  obs: A_OBS.concat(A_OBS_DENSE), model: A_MODEL.concat(A_MODEL_DENSE),
  modelTrend: A_MODEL_TREND, obsTrend: A_OBS_TREND, bandHi: A_BAND_HI, bandLo: A_BAND_LO,
  yTitle: A_Y_TITLE, legend: A_LEGEND, letter: "a", corner: "tr", yAxisWidth: 64, padRight: 12.5, yTitlePad: 14,
};
const PANEL_B: Panel = {
  obs: B_OBS.concat(B_OBS_DENSE), model: B_MODEL.concat(B_MODEL_DENSE),
  modelTrend: B_MODEL_TREND, obsTrend: B_OBS_TREND, bandHi: B_BAND_HI, bandLo: B_BAND_LO,
  yTitle: B_Y_TITLE, legend: B_LEGEND, letter: "b", corner: "bl", yAxisWidth: 68.5, padRight: 8, yTitlePad: 19,
};

export default function App() {
  return (
    <div style={{ position: "absolute", left: 0, top: 0, width: 892, height: 430, background: "#fff", overflow: "hidden" }}>
      <PanelChart p={PANEL_A} left={0} />
      <PanelChart p={PANEL_B} left={446} />
    </div>
  );
}
